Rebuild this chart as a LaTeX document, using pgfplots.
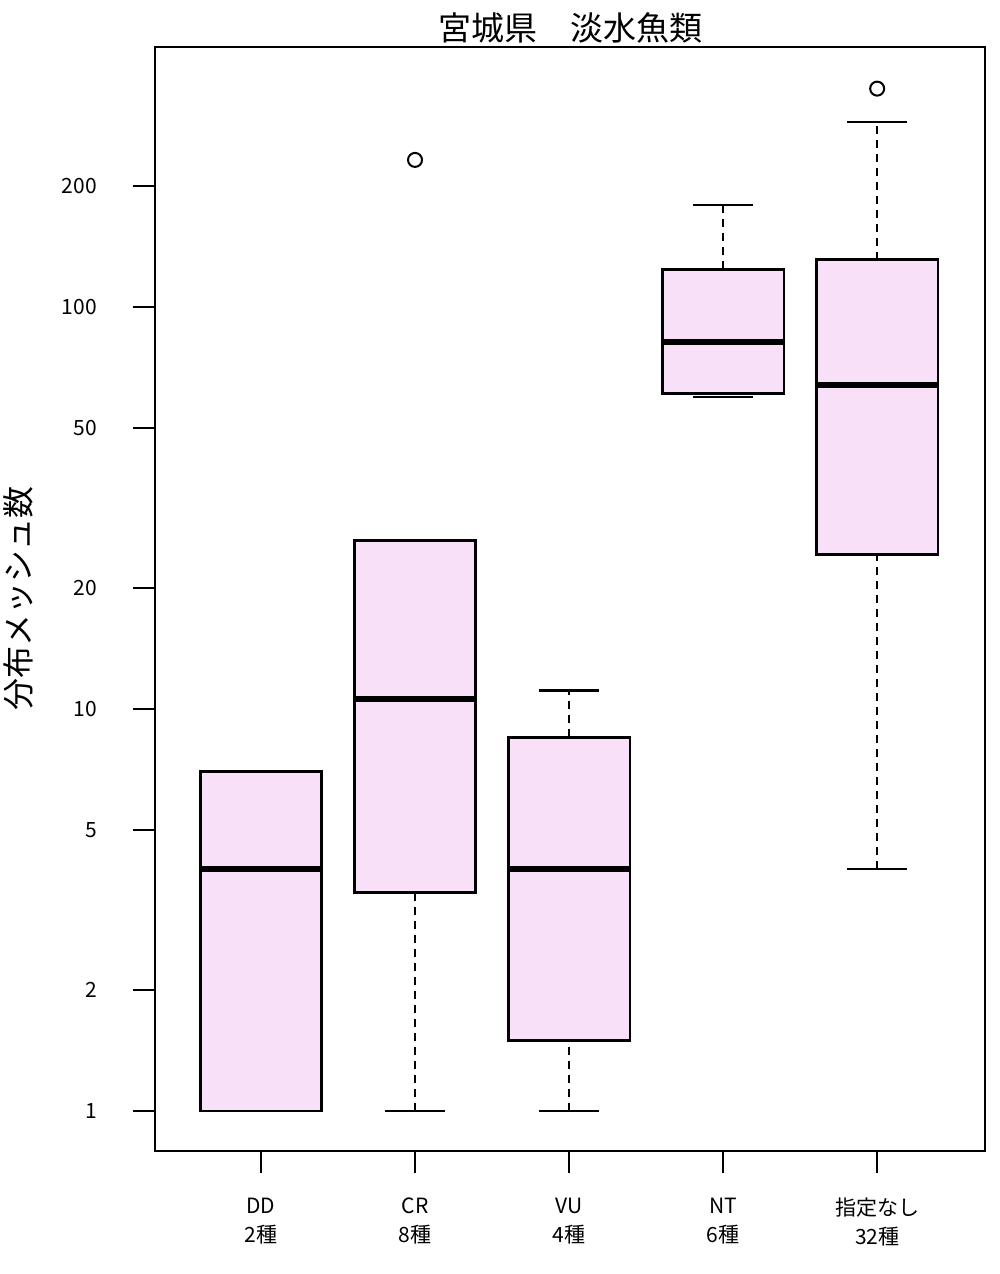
\documentclass[border=0pt]{standalone}
\usepackage{fontspec}
\setmainfont{Noto Sans CJK JP}
\usepackage{pgfplots}
\pgfplotsset{compat=1.18}
\definecolor{boxfill}{RGB}{249,224,249}
\begin{document}
\begin{tikzpicture}
\useasboundingbox (-77.5pt,-61.5pt) rectangle (422.5pt,575.5pt);
\begin{axis}[
  at={(0,0)}, anchor=south west,
  scale only axis, width=415pt, height=552pt,
  ymode=log, xmin=0.312, xmax=5.70, ymin=0.795, ymax=443,
  axis line style={line width=1.25pt},
  tick align=outside, xtick pos=bottom, ytick pos=left,
  major tick length=11pt,
  every tick/.style={line width=1.25pt, black},
  yminorticks=false,
  ytick={1,2,5,10,20,50,100,200},
  yticklabels={1,2,5,10,20,50,100,200},
  xtick={1,2,3,4,5},
  xticklabels={{DD\\2種},{CR\\8種},{VU\\4種},{NT\\6種},{指定なし\\32種}},
  /pgf/number format/assume math mode=true,
  yticklabel style={font=\fontsize{10.5}{12}\selectfont, xshift=-14.5pt},
  xticklabel style={font=\fontsize{10.5}{14.5}\selectfont, align=center, anchor=north, yshift=-9pt},
  title={宮城県\hspace{1em}淡水魚類},
  title style={font=\fontsize{16.5}{20}\selectfont, anchor=south, yshift=-7.5pt},
  ylabel={分布メッシュ数},
  every axis y label/.style={at={(axis description cs:0,0.5)}, xshift=-68.5pt, rotate=90, anchor=center, font=\fontsize{16}{18}\selectfont},
  boxst/.style={draw=black, fill=boxfill, line width=1.4pt, mark=none},
  medst/.style={draw=black, line width=3pt, mark=none},
  whst/.style={draw=black, line width=1pt, dash pattern=on 4pt off 3pt, mark=none},
  capst/.style={draw=black, line width=1.2pt, mark=none},
]
% DD: 1, 1, 4, 7, 7
\addplot[boxst] coordinates {(0.605,1) (1.395,1) (1.395,7) (0.605,7)} -- cycle;
\addplot[medst] coordinates {(0.605,4) (1.395,4)};
% CR: 1, 3.5, 10.6, 26.2, 26.2; outlier 232
\addplot[whst] coordinates {(2,1) (2,3.5)};
\addplot[capst] coordinates {(1.805,1) (2.195,1)};
\addplot[boxst] coordinates {(1.605,3.5) (2.395,3.5) (2.395,26.2) (1.605,26.2)} -- cycle;
\addplot[medst] coordinates {(1.605,10.6) (2.395,10.6)};
% VU: 1, 1.5, 4, 8.5, 11.1
\addplot[whst] coordinates {(3,1) (3,1.5)};
\addplot[capst] coordinates {(2.805,1) (3.195,1)};
\addplot[whst] coordinates {(3,8.5) (3,11.1)};
\addplot[capst] coordinates {(2.805,11.1) (3.195,11.1)};
\addplot[boxst] coordinates {(2.605,1.5) (3.395,1.5) (3.395,8.5) (2.605,8.5)} -- cycle;
\addplot[medst] coordinates {(2.605,4) (3.395,4)};
% NT: 59.7, 60.8, 81.8, 124, 179
\addplot[capst] coordinates {(3.805,59.7) (4.195,59.7)};
\addplot[whst] coordinates {(4,124) (4,179)};
\addplot[capst] coordinates {(3.805,179) (4.195,179)};
\addplot[boxst] coordinates {(3.605,60.8) (4.395,60.8) (4.395,124) (3.605,124)} -- cycle;
\addplot[medst] coordinates {(3.605,81.8) (4.395,81.8)};
% 指定なし: 4, 24.2, 64, 131, 288; outlier 349
\addplot[whst] coordinates {(5,4) (5,24.2)};
\addplot[capst] coordinates {(4.805,4) (5.195,4)};
\addplot[whst] coordinates {(5,131) (5,288)};
\addplot[capst] coordinates {(4.805,288) (5.195,288)};
\addplot[boxst] coordinates {(4.605,24.2) (5.395,24.2) (5.395,131) (4.605,131)} -- cycle;
\addplot[medst] coordinates {(4.605,64) (5.395,64)};
% outliers
\addplot[only marks, mark=o, mark size=3.5pt, mark options={line width=1pt, draw=black, fill=none}] coordinates {(2,232) (5,349)};
\end{axis}
\end{tikzpicture}
\end{document}
